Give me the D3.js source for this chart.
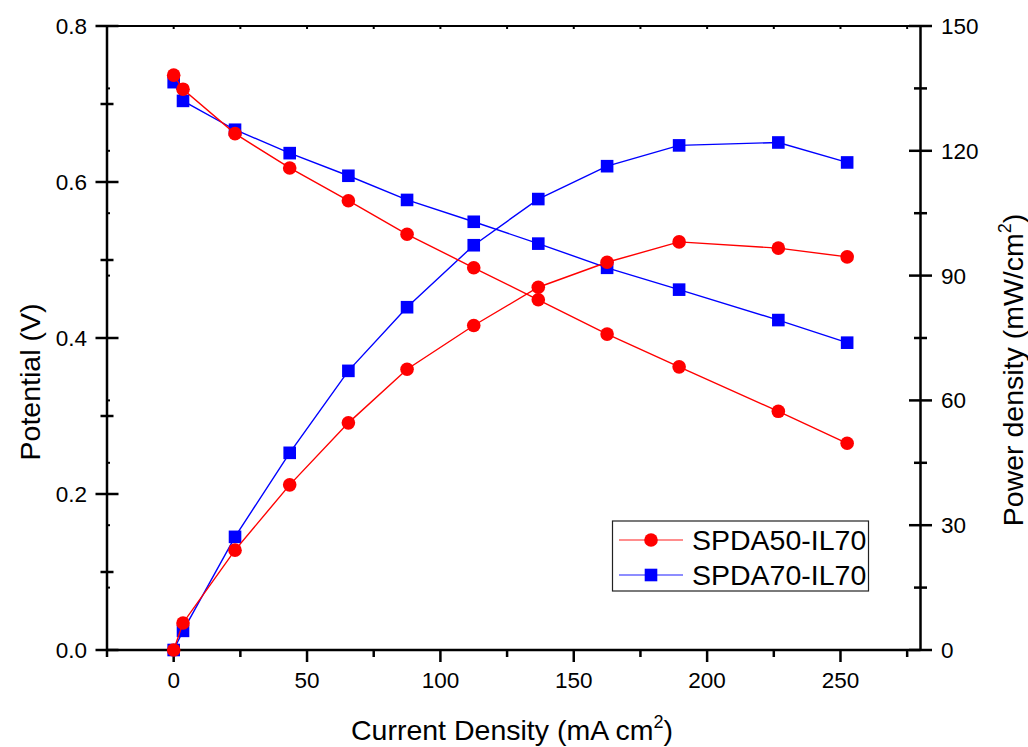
<!DOCTYPE html>
<meta charset="utf-8">
<html>
<head>
<style>
  body { margin: 0; background: #fff; }
  text { font-family: "Liberation Sans", Arial, sans-serif; fill: #000; }
</style>
</head>
<body>
<div id="chartContainer"></div>
<script src="https://cdn.jsdelivr.net/npm/d3@7"></script>
<script type="text/javascript">
  // current density (mA cm-2), shared by both membranes
  var current = [0, 3.5, 23, 43.5, 65.5, 87.5, 112.5, 136.7, 162.5, 189.5, 226.7, 252.5];
  var seriesNames = ["SPDA50-IL70", "SPDA70-IL70"];
  // potential (V)
  var potential50 = [0.737, 0.719, 0.662, 0.618, 0.576, 0.533, 0.490, 0.449, 0.405, 0.363, 0.306, 0.265];
  var potential70 = [0.728, 0.704, 0.667, 0.637, 0.608, 0.577, 0.549, 0.521, 0.490, 0.462, 0.423, 0.394];
  // power density (mW/cm2)
  var power50 = [0, 6.5, 24, 39.7, 54.6, 67.5, 78, 87.2, 93.2, 98.1, 96.6, 94.5];
  var power70 = [0, 4.6, 27.2, 47.4, 67.1, 82.4, 97.3, 108.4, 116.3, 121.3, 122, 117.2];
  var xTicks = [0, 50, 100, 150, 200, 250];
  var yTicks = [0, 0.2, 0.4, 0.6, 0.8];
  var y2Ticks = [0, 30, 60, 90, 120, 150];

  var W = 1028, H = 747;
  var pLeft = 107, pRight = 920.5, pTop = 26, pBottom = 650;

  var svg = d3.select("#chartContainer").append("svg")
    .attr("width", W).attr("height", H);

  var x = d3.scaleLinear().domain([-25, 280]).range([pLeft, pRight]);
  var y = d3.scaleLinear().domain([0, 0.8]).range([pBottom, pTop]);
  var y2 = d3.scaleLinear().domain([0, 150]).range([pBottom, pTop]);

  // frame lines
  var frame = svg.append("g").attr("stroke", "#000").attr("fill", "none");
  frame.append("line").attr("x1", pLeft).attr("x2", pRight).attr("y1", pTop).attr("y2", pTop).attr("stroke-width", 2);
  frame.append("line").attr("x1", pLeft).attr("x2", pRight).attr("y1", pBottom).attr("y2", pBottom).attr("stroke-width", 2.5);
  frame.append("line").attr("x1", pLeft).attr("x2", pLeft).attr("y1", pTop).attr("y2", pBottom).attr("stroke-width", 2.5);
  frame.append("line").attr("x1", pRight).attr("x2", pRight).attr("y1", pTop).attr("y2", pBottom).attr("stroke-width", 2.5);

  // bottom axis ticks (outward), top axis small inward ticks
  var xMinor = d3.range(-25, 281, 25);
  xMinor.forEach(function (v) {
    var major = v % 50 === 0;
    frame.append("line").attr("x1", x(v)).attr("x2", x(v))
      .attr("y1", pBottom).attr("y2", pBottom + (major ? 12 : 7)).attr("stroke-width", 2.5);
    frame.append("line").attr("x1", x(v)).attr("x2", x(v))
      .attr("y1", pTop).attr("y2", pTop + 3).attr("stroke-width", 2);
  });

  // left axis ticks (crossing)
  d3.range(0, 0.81, 0.1).forEach(function (v, i) {
    var half = i % 2 === 0 ? 11.5 : 6.5;
    frame.append("line").attr("x1", pLeft - half).attr("x2", pLeft + half)
      .attr("y1", y(v)).attr("y2", y(v)).attr("stroke-width", 2.5);
  });
  // right axis ticks (crossing)
  d3.range(0, 151, 15).forEach(function (v, i) {
    var half = i % 2 === 0 ? 11.5 : 6.5;
    frame.append("line").attr("x1", pRight - half).attr("x2", pRight + half)
      .attr("y1", y2(v)).attr("y2", y2(v)).attr("stroke-width", 2.5);
    frame.append("line").attr("x1", pLeft).attr("x2", pLeft + 3)
      .attr("y1", y2(v)).attr("y2", y2(v)).attr("stroke-width", 2);
  });

  // tick labels
  svg.selectAll(".xlab").data(xTicks).enter().append("text")
    .attr("x", function (d) { return x(d); })
    .attr("y", 688)
    .attr("text-anchor", "middle")
    .style("font-size", "22.5px")
    .text(function (d) { return d; });
  svg.selectAll(".ylab").data(yTicks).enter().append("text")
    .attr("x", 87)
    .attr("y", function (d) { return y(d) + 8; })
    .attr("text-anchor", "end")
    .style("font-size", "22.5px")
    .text(function (d) { return d3.format(".1f")(d); });
  svg.selectAll(".y2lab").data(y2Ticks).enter().append("text")
    .attr("x", 941)
    .attr("y", function (d) { return y2(d) + 8; })
    .attr("text-anchor", "start")
    .style("font-size", "22.5px")
    .text(function (d) { return d; });

  // axis titles
  var xt = svg.append("text")
    .attr("x", 512).attr("y", 740)
    .attr("text-anchor", "middle")
    .style("font-size", "28.5px");
  xt.append("tspan").text("Current Density (mA cm");
  xt.append("tspan").attr("dy", -12).style("font-size", "18px").text("2");
  xt.append("tspan").attr("dy", 12).text(")");

  svg.append("text")
    .attr("transform", "translate(40,382) rotate(-90)")
    .attr("text-anchor", "middle")
    .style("font-size", "28.5px")
    .text("Potential (V)");

  var yt2 = svg.append("text")
    .attr("transform", "translate(1023,370) rotate(-90)")
    .attr("text-anchor", "middle")
    .style("font-size", "28.5px");
  yt2.append("tspan").text("Power density (mW/cm");
  yt2.append("tspan").attr("dy", -12).style("font-size", "18px").text("2");
  yt2.append("tspan").attr("dy", 12).text(")");

  // data series
  var series = [
    { color: "#0000ff", shape: "square", pot: potential70, pow: power70 },
    { color: "#ff0000", shape: "circle", pot: potential50, pow: power50 }
  ];

  function drawSeries(s, vals, scale) {
    var pts = current.map(function (c, i) { return [c, vals[i]]; });
    var line = d3.line().x(function (d) { return x(d[0]); }).y(function (d) { return scale(d[1]); });
    svg.append("path").datum(pts)
      .attr("d", line)
      .attr("fill", "none")
      .attr("stroke", s.color)
      .attr("stroke-width", 1.4);
    if (s.shape === "circle") {
      svg.selectAll(null).data(pts).enter().append("circle")
        .attr("cx", function (d) { return x(d[0]); })
        .attr("cy", function (d) { return scale(d[1]); })
        .attr("r", 6.8)
        .attr("fill", s.color);
    } else {
      svg.selectAll(null).data(pts).enter().append("rect")
        .attr("x", function (d) { return x(d[0]) - 6.3; })
        .attr("y", function (d) { return scale(d[1]) - 6.3; })
        .attr("width", 12.6).attr("height", 12.6)
        .attr("fill", s.color);
    }
  }

  series.forEach(function (s) {
    drawSeries(s, s.pot, y);
    drawSeries(s, s.pow, y2);
  });

  // legend
  var lg = svg.append("g");
  lg.append("rect")
    .attr("x", 612.5).attr("y", 521).attr("width", 256).attr("height", 70)
    .attr("fill", "#fff").attr("stroke", "#222").attr("stroke-width", 1.2);
  var legendRows = [
    { name: seriesNames[0], color: "#ff0000", shape: "circle", cy: 540 },
    { name: seriesNames[1], color: "#0000ff", shape: "square", cy: 575 }
  ];
  legendRows.forEach(function (r) {
    lg.append("line").attr("x1", 619).attr("x2", 683).attr("y1", r.cy).attr("y2", r.cy)
      .attr("stroke", r.color).attr("stroke-opacity", 0.6).attr("stroke-width", 1.5);
    if (r.shape === "circle") {
      lg.append("circle").attr("cx", 651).attr("cy", r.cy).attr("r", 6.8).attr("fill", r.color);
    } else {
      lg.append("rect").attr("x", 651 - 6.3).attr("y", r.cy - 6.3).attr("width", 12.6).attr("height", 12.6).attr("fill", r.color);
    }
    lg.append("text").attr("x", 692).attr("y", r.cy + 10)
      .style("font-size", "28.5px")
      .text(r.name);
  });
</script>
</body>
</html>
